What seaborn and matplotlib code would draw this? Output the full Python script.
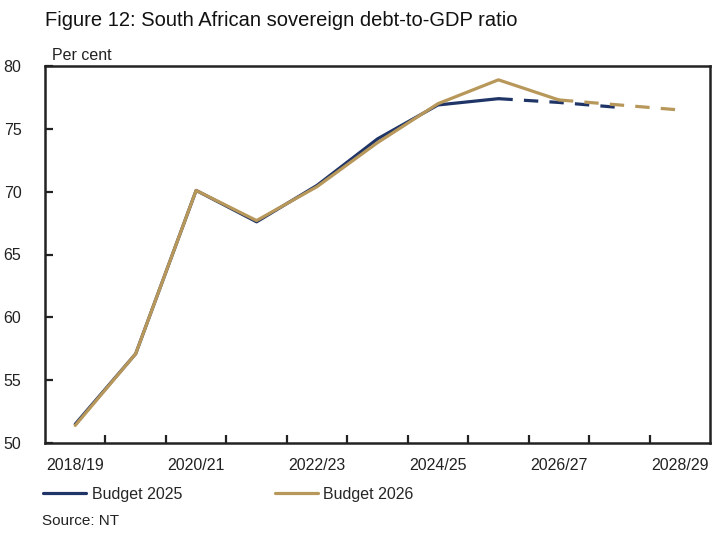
import matplotlib
matplotlib.use("Agg")
import matplotlib.pyplot as plt
from matplotlib.lines import Line2D
import seaborn as sns
import pandas as pd
import numpy as np

years = ["2018/19", "2019/20", "2020/21", "2021/22", "2022/23", "2023/24",
         "2024/25", "2025/26", "2026/27", "2027/28", "2028/29"]
budget_2025 = [51.5, 57.1, 70.1, 67.6, 70.5, 74.2, 76.9, 77.4, 77.1, 76.7, None]
budget_2026 = [51.4, 57.1, 70.1, 67.7, 70.4, 73.9, 77.0, 78.9, 77.3, 76.9, 76.5]
last_solid_2025 = 7   # index where dashed projection starts
last_solid_2026 = 8
yticks = [50, 55, 60, 65, 70, 75, 80]
navy = "#1F3567"
gold = "#B8985A"

sns.set_theme(style="white")
plt.rcParams['font.family'] = ['Liberation Sans', 'DejaVu Sans']

fig = plt.figure(figsize=(7.13, 5.33), dpi=100)
ax = fig.add_axes([45/713, 90/533, 665/713, 377/533])

x = np.arange(len(years))

def seg(vals, a, b):
    idx = [i for i in range(a, b + 1) if vals[i] is not None]
    return pd.DataFrame({"x": x[idx], "y": [vals[i] for i in idx]})

for vals, cut, col in [(budget_2025, last_solid_2025, navy), (budget_2026, last_solid_2026, gold)]:
    s = seg(vals, 0, cut)
    sns.lineplot(data=s, x="x", y="y", ax=ax, color=col, lw=2.3, legend=False)
    d = seg(vals, cut, len(vals) - 1)
    sns.lineplot(data=d, x="x", y="y", ax=ax, color=col, lw=2.3, legend=False)
    ax.lines[-1].set_dashes([4.5, 3.5])

ax.set_xlim(-0.5, len(years) - 0.5)
ax.set_ylim(50, 80)
ax.set_yticks(yticks)
ax.set_yticklabels([str(v) for v in yticks], fontsize=11.5)
ax.set_xticks(x[::2])
ax.set_xticklabels(years[::2], fontsize=11.5)
ax.set_xticks(np.arange(0.5, len(years) - 0.5, 1), minor=True)
ax.tick_params(axis="x", which="major", length=0, pad=11, colors="#222222")
ax.tick_params(axis="x", which="minor", direction="in", length=6, width=1.6, color="#222222", bottom=True)
ax.tick_params(axis="y", direction="in", length=6, width=1.6, color="#222222", left=True, pad=17, labelcolor="#222222")
ax.set_xlabel("")
ax.set_ylabel("")
for sp in ax.spines.values():
    sp.set_visible(True)
    sp.set_color("#222222")
    sp.set_linewidth(1.8)

fig.text(45/713, 1 - 20/533, "Figure 12: South African sovereign debt-to-GDP ratio",
         fontsize=14.5, va="center", ha="left", color="#111111")
fig.text(52/713, 1 - 56/533, "Per cent", fontsize=11.5, va="center", ha="left", color="#222222")
fig.text(42/713, 1 - 521/533, "Source: NT", fontsize=11, va="center", ha="left", color="#222222")

handles = [Line2D([], [], color=navy, lw=2.3), Line2D([], [], color=gold, lw=2.3)]
fig.legend(handles, ["Budget 2025", "Budget 2026"], loc="center left",
           bbox_to_anchor=(43/713, 1 - 494/533), ncol=2, frameon=False, fontsize=11.5,
           handlelength=2.7, handletextpad=0.35, columnspacing=5.8, borderaxespad=0,
           borderpad=0)

fig.savefig("out.png", dpi=100)
